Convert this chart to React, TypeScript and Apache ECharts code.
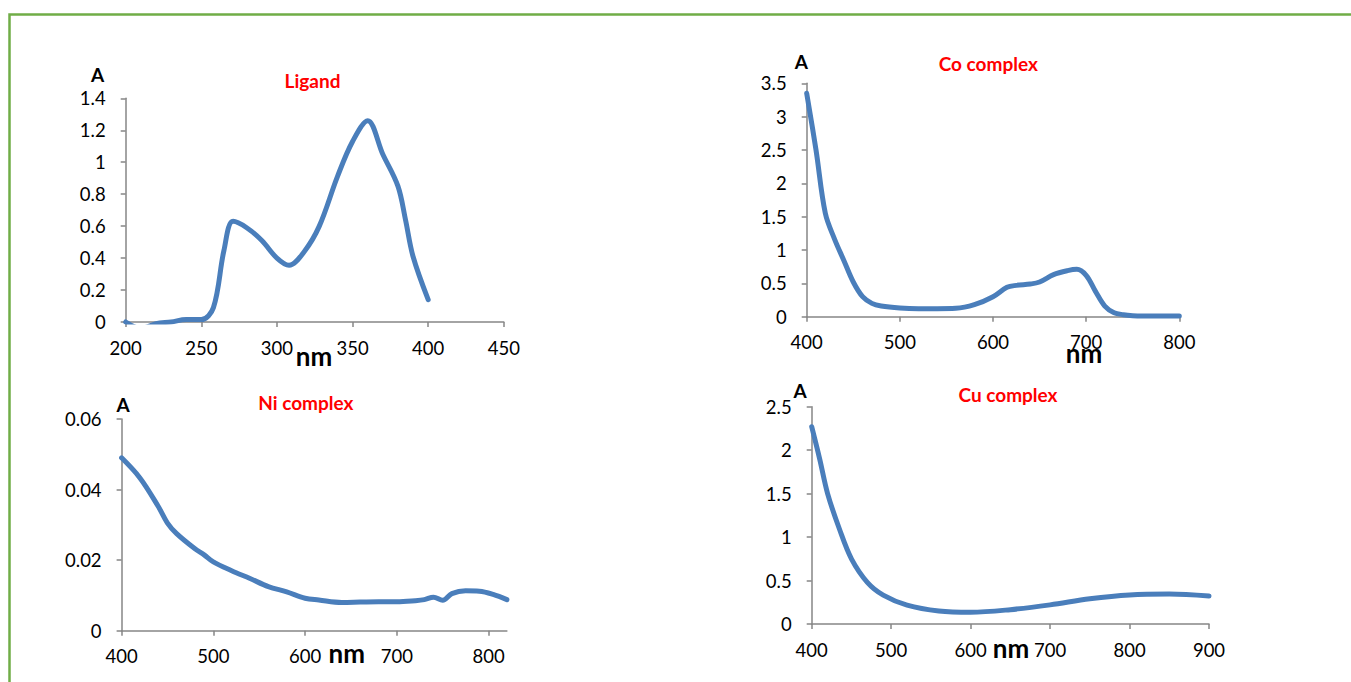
import React, { useEffect, useRef } from 'react';
import * as echarts from 'echarts';

// Ligand spectrum
const ligandNm = [200, 210, 220, 230, 240, 250, 258, 265, 271, 280, 290, 300, 308, 318, 328, 340, 350, 360, 370, 380, 385, 390, 400];
const ligandA = [0.0, -0.04, -0.01, 0.0, 0.015, 0.015, 0.09, 0.45, 0.63, 0.59, 0.51, 0.4, 0.355, 0.44, 0.6, 0.91, 1.13, 1.26, 1.05, 0.85, 0.64, 0.41, 0.14];

// Co complex spectrum
const coNm = [400, 410, 420, 430, 440, 450, 460, 470, 480, 500, 520, 540, 560, 580, 600, 615, 625, 640, 650, 665, 680, 690, 700, 710, 720, 730, 740, 750, 760, 800];
const coA = [3.35, 2.5, 1.55, 1.16, 0.84, 0.52, 0.3, 0.2, 0.16, 0.13, 0.12, 0.12, 0.125, 0.18, 0.3, 0.44, 0.47, 0.49, 0.52, 0.63, 0.69, 0.71, 0.62, 0.38, 0.16, 0.06, 0.03, 0.015, 0.01, 0.01];

// Ni complex spectrum
const niNm = [400, 420, 440, 450, 460, 480, 490, 500, 520, 540, 560, 580, 600, 615, 640, 660, 680, 700, 720, 730, 740, 750, 760, 775, 790, 805, 820];
const niA = [0.049, 0.0433, 0.0352, 0.0305, 0.0275, 0.0232, 0.0215, 0.0195, 0.017, 0.0148, 0.0125, 0.011, 0.0092, 0.0087, 0.008, 0.0081, 0.0082, 0.0082, 0.0085, 0.0088, 0.0095, 0.0086, 0.0105, 0.0113, 0.0112, 0.0103, 0.0088];

// Cu complex spectrum
const cuNm = [400, 410, 420, 435, 450, 470, 490, 520, 560, 600, 650, 700, 750, 800, 850, 900];
const cuA = [2.27, 1.9, 1.5, 1.09, 0.75, 0.48, 0.333, 0.218, 0.15, 0.135, 0.165, 0.22, 0.29, 0.335, 0.345, 0.322];

// Axis ranges / tick labels
const xRanges = [
  { min: 200, max: 450, interval: 50 },
  { min: 400, max: 800, interval: 100 },
  { min: 400, max: 820, interval: 100 },
  { min: 400, max: 900, interval: 100 },
];
const yRanges = [
  { min: 0, max: 1.4, interval: 0.2 },
  { min: 0, max: 3.5, interval: 0.5 },
  { min: 0, max: 0.06, interval: 0.02 },
  { min: 0, max: 2.5, interval: 0.5 },
];
const niXTicks = [400, 500, 600, 700, 800];
const panelTitles = ['Ligand', 'Co complex', 'Ni complex', 'Cu complex'];
const yName = 'A';
const xName = 'nm';

const FONT = 'Lato';
const AXIS_COLOR = '#868686';
const LINE_COLOR = '#4A7EBB';

function pairs(x: number[], y: number[]) {
  return x.map((v, i) => [v, y[i]]);
}

export default function App() {
  const ref = useRef<HTMLDivElement>(null);
  useEffect(() => {
    const chart = echarts.init(ref.current!, null, { renderer: 'svg' });
    const grids = [
      { left: 125.7, top: 98.3, width: 378.1, height: 223.7 },
      { left: 806.7, top: 83.3, width: 372.6, height: 233.4 },
      { left: 121.6, top: 419, width: 385.3, height: 211.7 },
      { left: 811.7, top: 406.7, width: 397.3, height: 217.3 },
    ];
    const axisLine = { show: true, onZero: false, lineStyle: { color: AXIS_COLOR, width: 1.5 } };
    const axisTick = { show: true, inside: false, length: 5, lineStyle: { color: AXIS_COLOR, width: 1.5 } };
    const labelStyle = { color: '#000', fontFamily: FONT, fontSize: 18.5 };

    const xAxis = xRanges.map((r, i) => {
      const ax: any = {
        type: 'value', gridIndex: i, min: r.min, max: r.max, interval: r.interval,
        axisLine, axisTick: { ...axisTick },
        axisLabel: { ...labelStyle, margin: 16 },
        splitLine: { show: false },
      };
      if (i === 2) {
        ax.axisTick.customValues = niXTicks;
        ax.axisLabel.customValues = niXTicks;
      }
      return ax;
    });
    const yAxis = yRanges.map((r, i) => ({
      type: 'value', gridIndex: i, min: r.min, max: r.max, interval: r.interval,
      axisLine, axisTick,
      axisLabel: { ...labelStyle, margin: 20 },
      splitLine: { show: false },
    }));

    const datasets = [pairs(ligandNm, ligandA), pairs(coNm, coA), pairs(niNm, niA), pairs(cuNm, cuA)];
    const series = datasets.map((d, i) => ({
      type: 'line', xAxisIndex: i, yAxisIndex: i, data: d,
      showSymbol: false, smooth: 0.35, clip: true,
      lineStyle: { color: LINE_COLOR, width: 5, cap: 'round', join: 'round' },
      itemStyle: { color: LINE_COLOR },
    }));

    const aPos = [[97.5, 74.5], [801.3, 61.5], [123, 404], [800, 390.5]];
    const titlePos = [[312.5, 80.7], [988.3, 63.3], [305.8, 402.5], [1008, 394.5]];
    const nmPos = [[314, 355.8], [1084, 352.5], [346.8, 652.5], [1011, 648]];

    const txt = (text: string, x: number, y: number, size: number, color: string) => ({
      type: 'text', x, y, silent: true,
      style: { text, fill: color, font: `bold ${size}px ${FONT}`, align: 'center', verticalAlign: 'middle' },
      z: 10,
    });

    const graphic: any[] = [
      { type: 'rect', shape: { x: 9.5, y: 14.5, width: 1400, height: 700 }, style: { fill: 'none', stroke: '#70AD47', lineWidth: 2.5 }, silent: true },
    ];
    for (let i = 0; i < 4; i++) {
      graphic.push(txt(yName, aPos[i][0], aPos[i][1], 19, '#000'));
      graphic.push(txt(panelTitles[i], titlePos[i][0], titlePos[i][1], 19, '#FF0000'));
      graphic.push(txt(xName, nmPos[i][0], nmPos[i][1], 26, '#000'));
    }

    chart.setOption({
      animation: false,
      backgroundColor: '#fff',
      textStyle: { fontFamily: FONT },
      grid: grids,
      xAxis,
      yAxis,
      series,
      graphic,
    });
    return () => chart.dispose();
  }, []);
  return <div ref={ref} style={{ position: 'fixed', left: 0, top: 0, width: 1351, height: 682 }} />;
}
